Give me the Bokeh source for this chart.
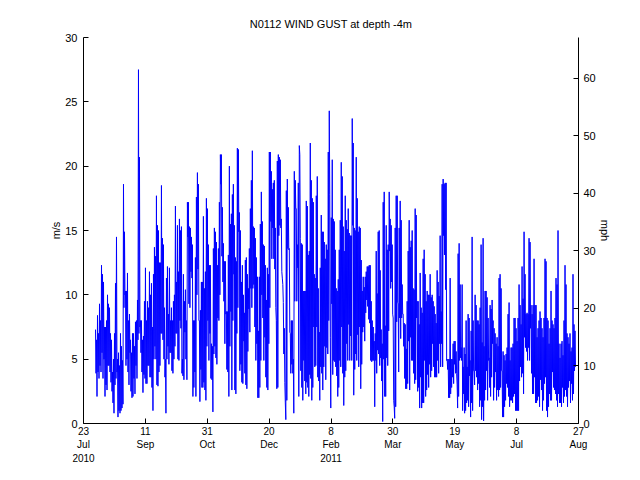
import pandas as pd
from bokeh.plotting import figure
from bokeh.models import Range1d, LinearAxis, FixedTicker
from bokeh.embed import file_html
from bokeh.resources import INLINE

TITLE = "N0112 WIND GUST at depth -4m"
FIRST_SAMPLE = "2010-08-01 17:00"
LAST_SAMPLE = "2011-08-24 14:00"

# wind gust, m/s (in time order: successive high / low readings)
GUST_MS = [
    7.3, 3.9, 6.5, 2.1, 8.4, 4.0, 7.0, 3.5, 9.3, 4.5,
    8.0, 4.0, 12.3, 5.5, 11.6, 3.5, 11.0, 5.0, 7.5, 2.1,
    7.5, 3.0, 8.0, 2.6, 10.0, 4.5, 9.3, 4.5, 9.0, 4.0,
    7.0, 3.2, 6.5, 2.5, 4.0, 1.6, 5.0, 0.8, 7.0, 3.0,
    10.9, 3.5, 14.5, 4.0, 5.0, 0.5, 5.5, 1.0, 4.5, 0.8,
    7.0, 1.0, 6.0, 1.2, 4.9, 1.5, 18.6, 9.0, 14.9, 10.0,
    10.3, 4.5, 10.3, 5.0, 11.7, 4.0, 8.0, 3.0, 8.5, 5.5,
    6.5, 2.5, 5.5, 2.0, 7.0, 2.1, 7.0, 3.5, 6.0, 2.3,
    7.9, 4.5, 8.0, 3.5, 9.6, 6.5, 27.5, 7.0, 20.7, 7.5,
    8.0, 5.5, 8.0, 4.0, 6.5, 2.4, 6.8, 3.8, 9.5, 3.5,
    12.1, 3.1, 8.0, 3.1, 9.5, 4.5, 9.0, 4.5, 11.8, 3.6,
    10.0, 3.6, 10.9, 2.8, 7.5, 1.0, 11.6, 5.0, 13.7, 6.0,
    13.0, 5.0, 17.7, 3.0, 15.4, 2.9, 15.0, 4.0, 12.5, 4.5,
    12.5, 7.0, 18.5, 7.0, 14.4, 6.5, 13.9, 5.0, 9.0, 3.6,
    5.0, 0.8, 11.3, 5.0, 12.2, 6.0, 8.5, 4.6, 12.1, 5.5,
    8.0, 5.5, 9.0, 4.1, 8.0, 3.9, 9.5, 5.0, 10.0, 6.0,
    16.9, 7.0, 11.0, 7.0, 15.4, 5.0, 11.8, 4.9, 15.9, 8.0,
    15.0, 7.4, 15.3, 3.9, 5.0, 3.7, 11.6, 3.4, 9.5, 7.1,
    10.4, 5.0, 8.0, 3.4, 17.2, 14.5, 17.2, 9.3, 15.3, 9.0,
    15.2, 11.8, 14.5, 11.3, 13.9, 2.1, 8.0, 2.8, 8.0, 4.0,
    12.9, 2.1, 17.6, 10.0, 19.5, 12.0, 18.6, 8.0, 8.0, 1.7,
    8.8, 4.2, 11.0, 2.8, 11.0, 2.8, 16.1, 3.2, 10.5, 2.6,
    11.8, 1.8, 17.5, 6.0, 16.7, 8.0, 13.9, 4.9, 12.3, 7.0,
    12.3, 3.5, 6.2, 3.4, 6.0, 0.9, 13.6, 5.4, 15.2, 6.0,
    14.9, 5.1, 14.1, 4.6, 12.3, 8.2, 13.6, 8.0, 17.2, 10.0,
    20.9, 18.6, 20.9, 13.0, 16.8, 11.0, 14.0, 9.5, 12.6, 6.2,
    12.6, 8.5, 8.7, 4.2, 8.7, 4.0, 13.1, 2.1, 20.0, 6.0,
    15.5, 8.7, 16.3, 2.6, 17.8, 8.0, 18.6, 11.6, 15.4, 2.6,
    12.9, 2.3, 12.6, 7.0, 21.4, 9.0, 21.3, 14.9, 16.4, 4.1,
    15.0, 4.6, 11.0, 3.2, 12.3, 3.1, 10.0, 6.4, 8.6, 3.9,
    12.7, 3.0, 12.9, 2.7, 11.6, 5.6, 10.5, 8.9, 13.6, 7.1,
    16.7, 10.5, 18.9, 9.0, 21.2, 10.5, 15.3, 10.8, 15.2, 7.5,
    14.4, 4.9, 12.9, 6.2, 11.4, 2.0, 7.2, 2.0, 11.4, 2.8,
    15.5, 4.9, 18.0, 10.0, 15.7, 8.2, 13.9, 4.9, 13.8, 6.7,
    12.3, 3.6, 9.6, 2.8, 12.1, 2.6, 11.6, 6.2, 21.1, 9.0,
    21.1, 15.7, 19.6, 12.8, 18.2, 15.2, 18.7, 12.8, 18.9, 12.0,
    15.2, 9.0, 8.0, 2.7, 20.4, 2.8, 20.9, 14.6, 20.7, 15.4,
    20.5, 15.2, 15.9, 11.8, 11.3, 10.8, 9.4, 5.4, 7.4, 3.2,
    1.6, 0.3, 18.1, 1.8, 19.0, 13.6, 16.8, 13.5, 13.6, 7.1,
    7.0, 3.9, 8.0, 4.6, 8.0, 3.9, 5.0, 0.8, 19.6, 9.5,
    18.9, 16.7, 16.7, 9.5, 13.9, 12.1, 18.7, 2.1, 21.6, 20.9,
    14.4, 4.1, 14.0, 2.8, 13.9, 1.8, 10.3, 4.9, 10.3, 3.3,
    10.3, 2.3, 17.3, 3.2, 16.9, 2.8, 13.1, 2.1, 13.4, 3.8,
    21.8, 3.5, 18.9, 1.8, 17.5, 2.8, 17.2, 7.5, 11.6, 4.4,
    11.3, 4.5, 17.7, 7.5, 19.2, 3.6, 10.5, 3.3, 7.1, 1.8,
    12.1, 4.4, 16.2, 3.9, 14.9, 2.6, 14.9, 4.4, 14.1, 6.0,
    12.8, 3.4, 13.9, 5.9, 13.5, 5.4, 21.1, 8.0, 24.3, 17.8,
    6.7, 1.2, 16.0, 9.3, 20.5, 3.8, 15.9, 4.9, 15.7, 4.8,
    13.5, 4.4, 10.5, 3.7, 10.3, 2.1, 11.2, 2.8, 13.5, 4.9,
    15.8, 4.4, 20.3, 7.5, 19.2, 3.9, 15.3, 1.4, 13.4, 3.6,
    17.7, 4.1, 15.8, 6.2, 15.1, 4.9, 16.7, 7.7, 14.8, 4.9,
    14.6, 6.8, 14.6, 4.9, 23.7, 15.4, 21.8, 2.2, 15.2, 4.2,
    15.0, 5.4, 20.7, 4.9, 17.5, 6.9, 14.9, 4.4, 15.3, 7.5,
    15.2, 2.7, 12.7, 4.6, 10.3, 7.1, 11.4, 7.5, 10.6, 6.4,
    11.4, 8.6, 11.8, 9.6, 12.2, 9.1, 12.2, 8.1, 12.3, 7.8,
    12.3, 4.9, 9.5, 4.8, 8.0, 4.9, 7.5, 4.9, 6.4, 1.3,
    7.0, 4.9, 13.4, 3.9, 10.1, 5.7, 14.9, 5.4, 15.0, 4.5,
    11.9, 5.1, 7.3, 3.3, 6.2, 0.15, 17.2, 5.0, 18.0, 2.1,
    7.6, 2.1, 15.4, 5.1, 13.5, 4.5, 13.9, 7.2, 18.0, 13.4,
    15.9, 10.5, 15.4, 11.0, 13.9, 8.5, 8.2, 1.8, 1.3, 0.4,
    15.2, 1.3, 17.7, 7.9, 17.7, 9.4, 9.3, 4.0, 15.2, 8.2,
    17.3, 6.6, 15.8, 8.2, 10.8, 8.5, 8.5, 6.0, 7.8, 3.5,
    7.7, 2.7, 5.8, 2.7, 9.5, 3.1, 13.4, 6.4, 15.8, 2.6,
    13.7, 6.7, 14.2, 4.9, 15.0, 4.9, 10.5, 3.9, 10.4, 3.1,
    16.7, 3.4, 16.2, 8.2, 9.5, 2.5, 9.5, 2.8, 7.7, 1.2,
    11.7, 3.6, 9.0, 1.2, 8.6, 1.6, 12.8, 1.6, 13.5, 4.9,
    11.6, 2.1, 9.5, 2.6, 10.3, 3.8, 10.0, 2.8, 10.0, 4.6,
    11.6, 3.6, 9.8, 4.1, 10.0, 6.2, 9.5, 4.4, 9.1, 3.6,
    8.5, 3.6, 7.8, 3.6, 11.9, 4.9, 11.0, 3.9, 9.9, 6.2,
    14.6, 4.4, 8.7, 6.2, 18.6, 4.4, 19.0, 14.6, 18.6, 13.1,
    18.7, 10.4, 18.7, 4.9, 5.0, 4.2, 5.0, 2.0, 5.0, 2.0,
    11.3, 2.3, 5.0, 2.8, 5.0, 3.6, 6.2, 3.1, 6.4, 4.6,
    6.4, 3.9, 5.6, 3.9, 3.0, 1.2, 13.2, 2.1, 14.0, 4.9,
    10.8, 5.1, 5.9, 4.9, 10.8, 1.0, 4.4, 2.3, 5.9, 0.8,
    5.4, 1.0, 8.0, 1.6, 4.4, 1.8, 8.5, 1.3, 8.2, 3.7,
    4.9, 0.5, 7.2, 1.6, 14.5, 1.0, 8.0, 4.1, 4.1, 3.0,
    10.0, 4.1, 9.2, 3.6, 8.0, 2.6, 8.0, 3.1, 7.7, 1.3,
    9.0, 1.8, 13.9, 0.3, 6.3, 1.3, 14.4, 0.2, 6.0, 1.8,
    10.3, 2.6, 10.3, 4.1, 9.8, 1.8, 8.2, 4.9, 5.1, 2.8,
    9.2, 2.1, 8.9, 3.6, 9.6, 6.2, 8.0, 1.8, 7.4, 2.8,
    7.0, 4.0, 6.2, 1.8, 6.7, 2.6, 6.0, 2.1, 11.3, 2.6,
    11.6, 2.8, 10.5, 4.1, 4.1, 0.5, 5.6, 0.5, 5.3, 1.3,
    4.9, 1.8, 5.4, 3.1, 5.9, 2.8, 8.5, 2.1, 9.4, 1.3,
    4.9, 1.8, 5.9, 1.8, 5.9, 1.6, 6.2, 2.1, 8.2, 2.3,
    8.2, 1.0, 7.4, 1.0, 6.4, 1.0, 8.2, 1.0, 10.8, 3.3,
    9.2, 4.4, 7.7, 3.6, 12.2, 3.9, 9.7, 2.3, 14.9, 6.7,
    11.6, 5.9, 8.5, 5.6, 8.6, 4.9, 8.5, 5.9, 14.4, 4.9,
    14.1, 7.4, 9.2, 3.9, 8.5, 2.3, 9.2, 2.3, 12.8, 3.6,
    9.2, 1.6, 9.2, 1.6, 6.7, 1.8, 7.4, 2.1, 8.0, 1.3,
    8.7, 3.4, 8.2, 2.6, 7.4, 1.0, 6.7, 1.8, 8.2, 3.1,
    12.8, 3.6, 12.6, 1.0, 8.2, 0.5, 8.0, 1.3, 6.2, 2.3,
    7.4, 1.8, 10.3, 1.8, 8.0, 4.0, 7.7, 2.8, 7.4, 2.6,
    8.2, 2.3, 11.3, 1.8, 10.8, 1.3, 15.0, 2.3, 6.2, 1.6,
    5.1, 1.6, 6.2, 1.3, 6.4, 2.8, 5.3, 1.6, 8.0, 2.1,
    12.3, 2.6, 10.8, 2.1, 7.0, 1.3, 6.7, 2.8, 6.2, 3.3,
    7.0, 1.6, 5.6, 3.1, 5.9, 1.8, 11.6, 2.3, 7.7, 4.1, 7.2, 4.4,
]

X_START = "2010-07-23"
X_END = "2011-08-27"
TICK_DATES = ["2010-07-23", "2010-09-11", "2010-10-31", "2010-12-20", "2011-02-08",
              "2011-03-30", "2011-05-19", "2011-07-08", "2011-08-27"]
TICK_DAYS = ["23", "11", "31", "20", "8", "30", "19", "8", "27"]
TICK_MONTHS = ["Jul", "Sep", "Oct", "Dec", "Feb", "Mar", "May", "Jul", "Aug"]
YEAR_DATES = ["2010-07-23", "2011-02-08"]
YEAR_LABELS = ["2010", "2011"]

Y_TICKS = [0, 5, 10, 15, 20, 25, 30]
MPH_TICKS = [0, 10, 20, 30, 40, 50, 60]
MS_TO_MPH = 2.23694
Y_MAX = 30

FONT = "Liberation Sans"
FS = "11px"


def ms(d):
    return float(pd.Timestamp(d).value // 10**6)


times = pd.date_range(FIRST_SAMPLE, LAST_SAMPLE, periods=len(GUST_MS))

p = figure(width=624, height=464, x_axis_type="datetime",
           x_range=Range1d(ms(X_START), ms(X_END)), y_range=Range1d(0, Y_MAX),
           output_backend="svg", toolbar_location=None, title=TITLE,
           min_border_left=83, min_border_right=46, min_border_top=37, min_border_bottom=41)
p.outline_line_color = None
p.grid.visible = False
p.background_fill_color = "white"
p.border_fill_color = "white"

p.title.align = "center"
p.title.text_font = FONT
p.title.text_font_size = FS
p.title.text_font_style = "normal"
p.title.text_color = "black"
p.title.standoff = 15

p.line(times, GUST_MS, line_color="#0000ff", line_width=1)

tick_ms = [ms(d) for d in TICK_DATES]


def base_style(ax, size="10px"):
    ax.major_label_text_font = FONT
    ax.major_label_text_font_size = size
    ax.major_label_text_color = "black"
    ax.minor_tick_line_color = None
    ax.axis_label_text_font = FONT
    ax.axis_label_text_font_size = FS
    ax.axis_label_text_font_style = "normal"
    ax.axis_label_text_color = "black"


# day numbers (main x axis)
xa = p.xaxis[0]
xa.ticker = FixedTicker(ticks=tick_ms, minor_ticks=[])
xa.major_label_overrides = {t: s for t, s in zip(tick_ms, TICK_DAYS)}
base_style(xa)
xa.major_tick_in = 5
xa.major_tick_out = 0
xa.major_label_standoff = 3
xa.axis_line_color = "black"
xa.major_tick_line_color = "black"

# month names
xm = LinearAxis(ticker=FixedTicker(ticks=tick_ms, minor_ticks=[]))
xm.major_label_overrides = {t: s for t, s in zip(tick_ms, TICK_MONTHS)}
base_style(xm)
xm.axis_line_color = None
xm.major_tick_line_color = None
xm.major_tick_in = 0
xm.major_tick_out = 0
xm.major_label_standoff = 1
p.add_layout(xm, "below")

# years
year_ms = [ms(d) for d in YEAR_DATES]
xy = LinearAxis(ticker=FixedTicker(ticks=year_ms, minor_ticks=[]))
xy.major_label_overrides = {t: s for t, s in zip(year_ms, YEAR_LABELS)}
base_style(xy)
xy.axis_line_color = None
xy.major_tick_line_color = None
xy.major_tick_in = 0
xy.major_tick_out = 0
xy.major_label_standoff = 1
p.add_layout(xy, "below")

# left axis, m/s
ya = p.yaxis[0]
ya.ticker = FixedTicker(ticks=Y_TICKS, minor_ticks=[])
ya.axis_label = "m/s"
base_style(ya, FS)
ya.major_tick_in = 5
ya.major_tick_out = 0
ya.major_label_standoff = 6
ya.axis_label_standoff = 0

# right axis, mph
p.extra_y_ranges = {"mph": Range1d(0, Y_MAX * MS_TO_MPH)}
yr = LinearAxis(y_range_name="mph", axis_label="mph",
                ticker=FixedTicker(ticks=MPH_TICKS, minor_ticks=[]))
base_style(yr, FS)
yr.major_tick_in = 5
yr.major_tick_out = 0
yr.major_label_standoff = 5
yr.axis_label_standoff = 0
p.add_layout(yr, "right")

open("out.html", "w").write(file_html(p, INLINE))
